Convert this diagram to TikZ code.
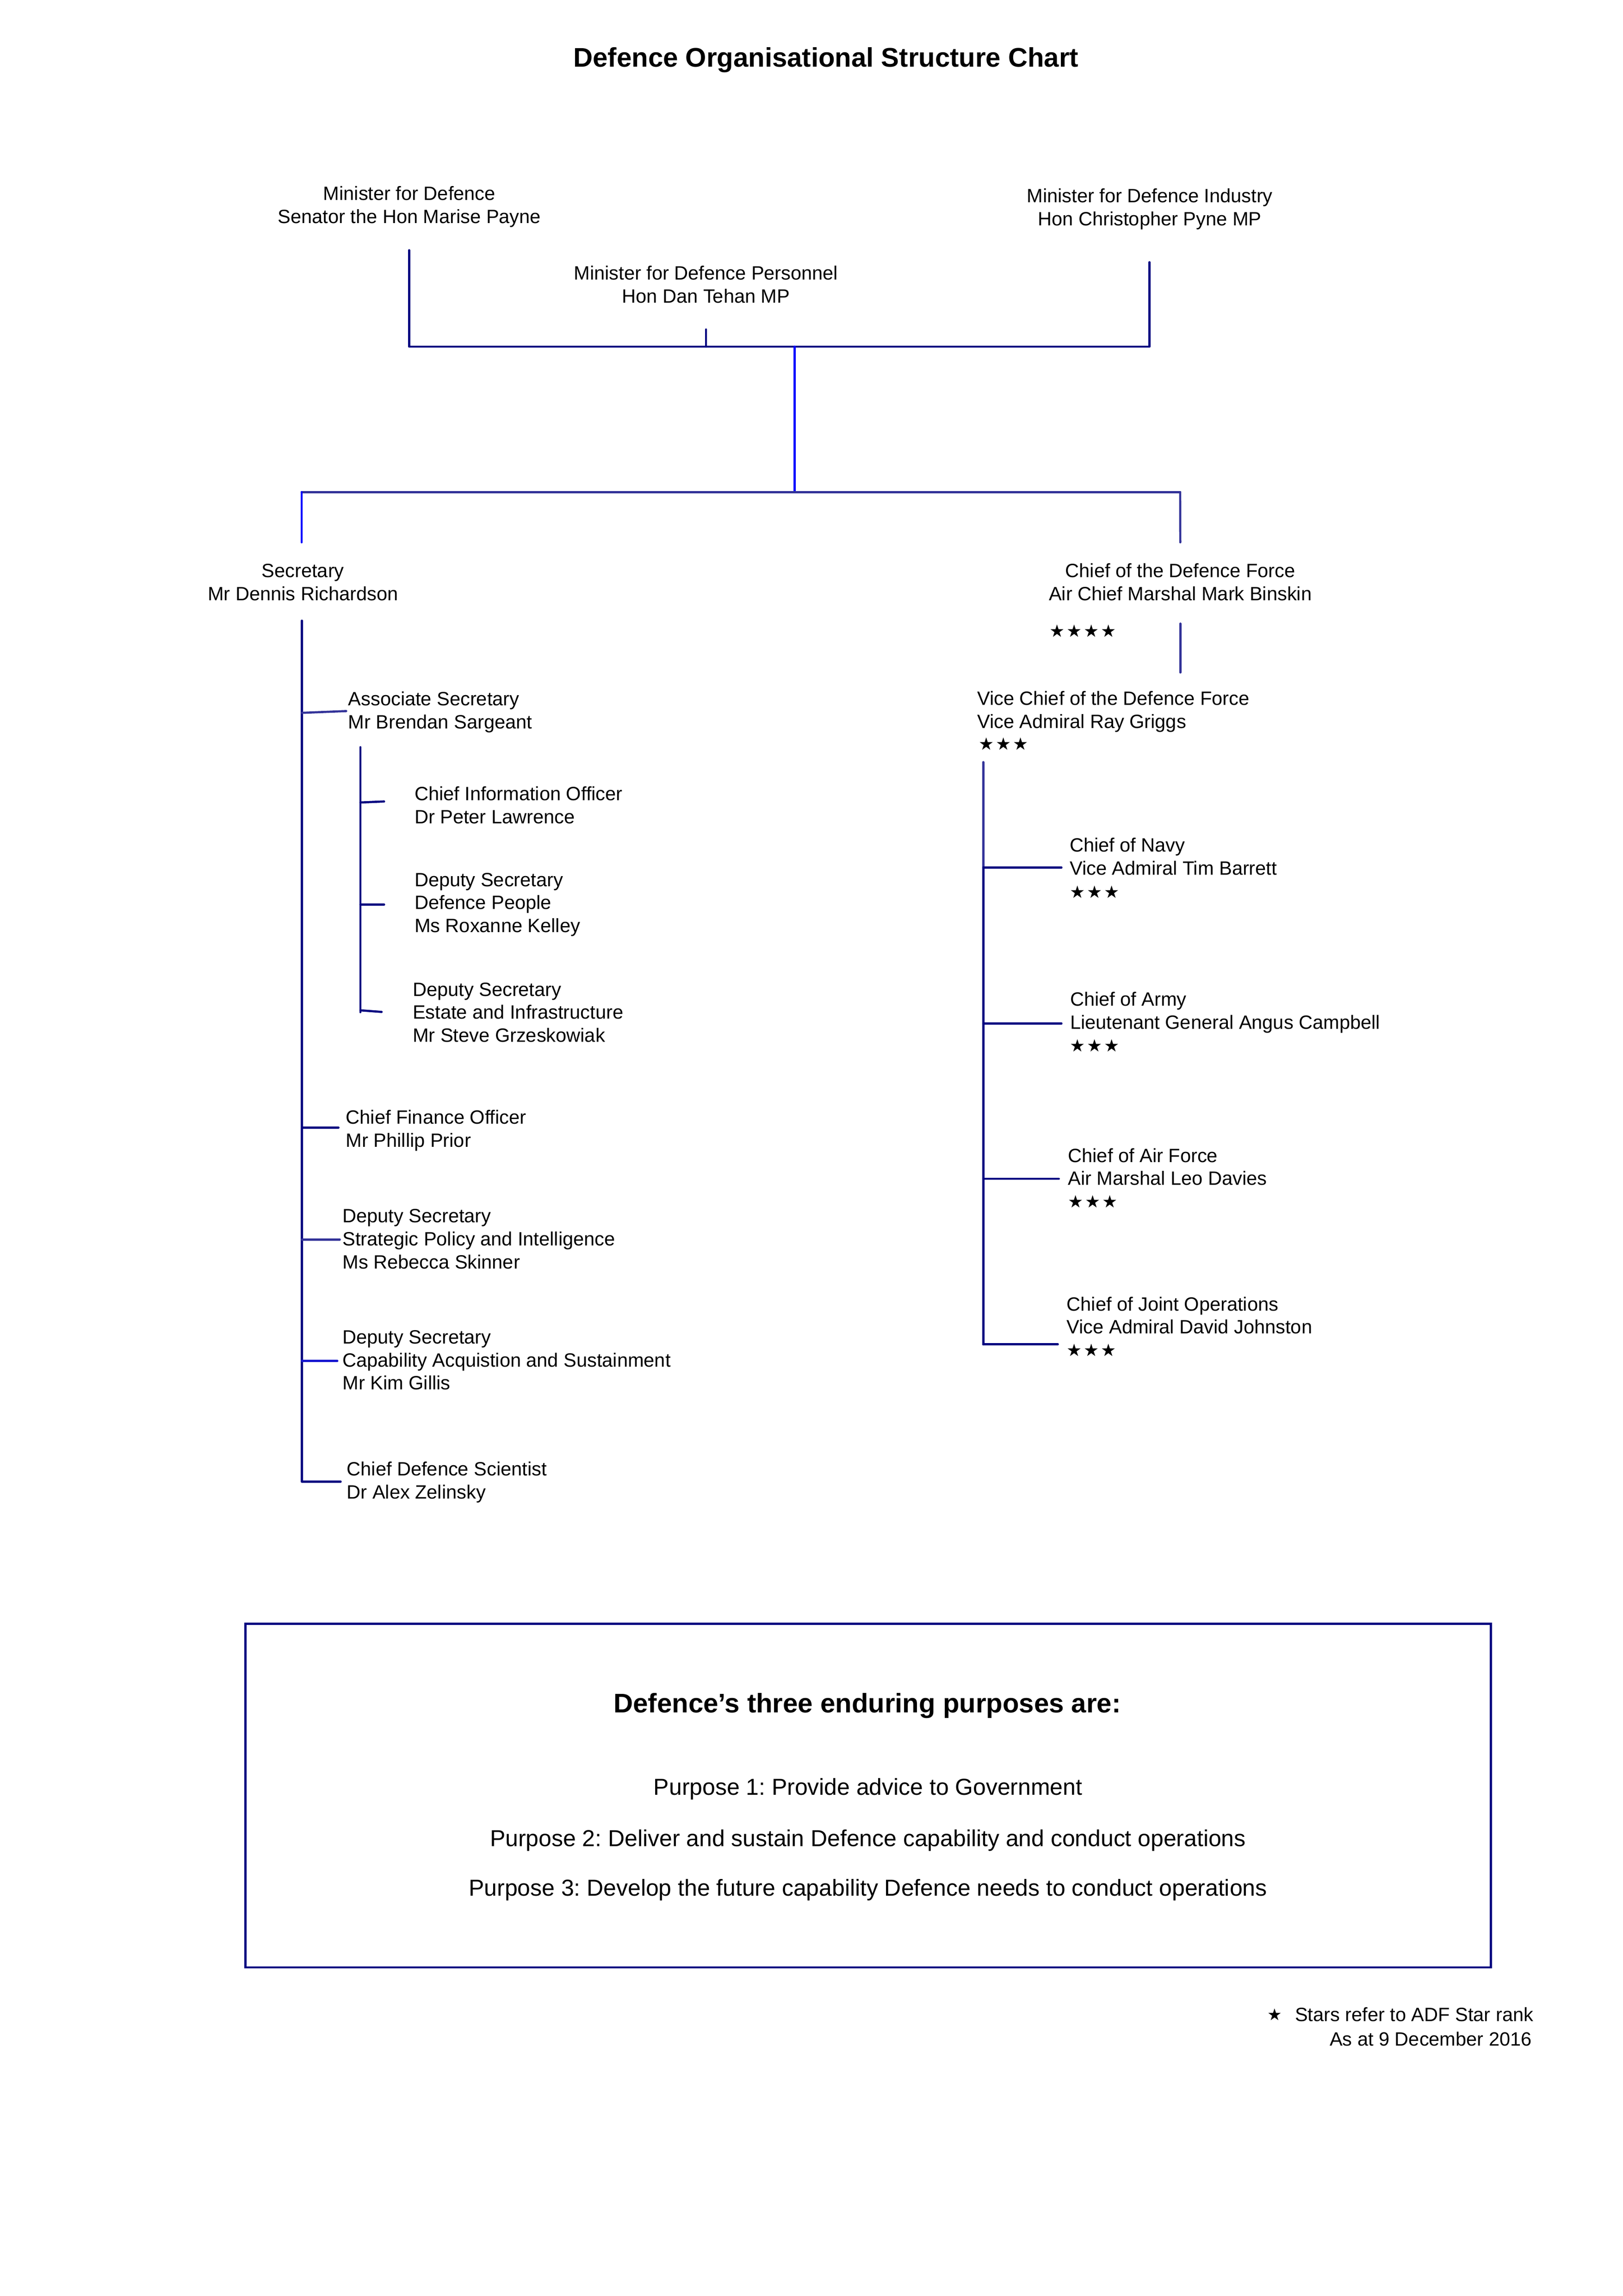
\documentclass[tikz,border=0pt]{standalone}
\usepackage{fontspec}
\setmainfont{Liberation Sans}
\newfontfamily\symfont{DejaVu Sans}
\frenchspacing
\definecolor{navyA}{HTML}{000080}
\definecolor{slateA}{HTML}{333399}
\definecolor{blueA}{HTML}{0000FF}
\definecolor{blueB}{HTML}{1515D0}
\newcommand\bodyf{\fontsize{7.08pt}{8.5pt}\selectfont}
\newcommand\titlef{\fontsize{9.9pt}{12pt}\selectfont\bfseries}
\newcommand\purpf{\fontsize{8.5pt}{10.2pt}\selectfont}
\newcommand\onestar{\makebox[6.3pt][l]{\fontsize{6.3pt}{7pt}\symfont ★}}
\newcommand\llines[1]{\begin{tabular}[t]{@{}l@{}}#1\end{tabular}}
\newcommand\clines[1]{\begin{tabular}[t]{@{}c@{}}#1\end{tabular}}
\begin{document}
\begin{tikzpicture}[x=0.018917cm,y=-0.018917cm,line width=0.8pt,line cap=round,line join=round,
  txt/.style={inner sep=0pt,font=\bodyf,anchor=base west},
  ctxt/.style={inner sep=0pt,font=\bodyf,anchor=base},
  stars/.style={inner sep=0pt,anchor=west}]
\useasboundingbox (0,0) rectangle (1110.1,1569.9);

% title
\node[ctxt,font=\titlef] (title) at (565,45.6) {Defence Organisational Structure Chart};

% ministers
\node[ctxt] (minDef) at (280,136.9) {\clines{Minister for Defence\\Senator the Hon Marise Payne}};
\node[ctxt] (minInd) at (786.4,138.5) {\clines{Minister for Defence Industry\\Hon Christopher Pyne MP}};
\node[ctxt] (minPers) at (482.9,191.3) {\clines{Minister for Defence Personnel\\Hon Dan Tehan MP}};

\coordinate (mdB) at (279.8,171.1); \coordinate (mdJ) at (279.8,237);
\coordinate (miB) at (786.2,179.3); \coordinate (miJ) at (786.2,237);
\coordinate (mpB) at (482.9,225.3); \coordinate (mpJ) at (482.9,237);
\coordinate (topJ) at (543.6,237); \coordinate (midJ) at (543.6,336.5);
\coordinate (secJ) at (206.3,336.5); \coordinate (secT) at (206.3,370.8);
\coordinate (cdfJ) at (807.2,336.5); \coordinate (cdfT) at (807.3,370.8);

\draw[navyA] (mdB) -- (mdJ) -- (miJ) -- (miB);
\draw[navyA] (mpB) -- (mpJ);
\draw[blueA] (topJ) -- (midJ);
\draw[slateA] (secJ) -- (cdfJ);
\draw[blueA] (secJ) -- (secT);
\draw[slateA] (cdfJ) -- (cdfT);

% secretary and CDF
\node[ctxt] (sec) at (207.2,394.8) {\clines{Secretary\\Mr Dennis Richardson}};
\node[ctxt] (cdf) at (807.3,394.7) {\clines{Chief of the Defence Force\\Air Chief Marshal Mark Binskin}};
\node[stars] (cdfStars) at (717.1,431.4) {\onestar\onestar\onestar\onestar};

% secretary branch
\coordinate (secB) at (206.5,424.4); \coordinate (secE) at (206.5,1013);
\draw[navyA] (secB) -- (secE);

\node[txt] (assoc) at (237.5,482.5) {\llines{Associate Secretary\\Mr Brendan Sargeant}};
\coordinate (asJ) at (206.5,487.4); \coordinate (asE) at (236.8,486.2);
\draw[slateA] (asJ) -- (asE);

\coordinate (subB) at (246.5,510.9); \coordinate (subE) at (246.5,692.1);
\draw[navyA] (subB) -- (subE);
\coordinate (s1J) at (246.5,548.7); \coordinate (s1E) at (262.7,548);
\coordinate (s2J) at (246.5,618.5); \coordinate (s2E) at (262.7,618.5);
\coordinate (s3J) at (246.5,690.8); \coordinate (s3E) at (261,691.9);
\draw[navyA] (s1J) -- (s1E);
\draw[navyA] (s2J) -- (s2E);
\draw[navyA] (s3J) -- (s3E);
\node[txt] (cio) at (282.8,547.4) {\llines{Chief Information Officer\\Dr Peter Lawrence}};
\node[txt] (dsPeople) at (282.8,606.0) {\llines{Deputy Secretary\\Defence People\\Ms Roxanne Kelley}};
\node[txt] (dsEstate) at (281.6,681.0) {\llines{Deputy Secretary\\Estate and Infrastructure\\Mr Steve Grzeskowiak}};

\coordinate (cfoJ) at (206.5,771); \coordinate (cfoE) at (231.5,771);
\draw[navyA] (cfoJ) -- (cfoE);
\node[txt] (cfo) at (235.9,768.4) {\llines{Chief Finance Officer\\Mr Phillip Prior}};

\coordinate (spiJ) at (206.5,847.5); \coordinate (spiE) at (232.4,847.5);
\draw[slateA] (spiJ) -- (spiE);
\node[txt] (spi) at (233.6,835.9) {\llines{Deputy Secretary\\Strategic Policy and Intelligence\\Ms Rebecca Skinner}};

\coordinate (casJ) at (206.5,930.5); \coordinate (casE) at (230.7,930.5);
\draw[blueB] (casJ) -- (casE);
\node[txt] (cas) at (233.6,918.7) {\llines{Deputy Secretary\\Capability Acquistion and Sustainment\\Mr Kim Gillis}};

\coordinate (cdsE) at (233,1013);
\draw[navyA] (secE) -- (cdsE);
\node[txt] (cds) at (236.5,1009) {\llines{Chief Defence Scientist\\Dr Alex Zelinsky}};

% CDF branch
\coordinate (cdfB) at (807.3,426.4); \coordinate (cdfE) at (807.3,459.8);
\draw[slateA] (cdfB) -- (cdfE);

\node[txt] (vcdf) at (667.6,482.1) {\llines{Vice Chief of the Defence Force\\Vice Admiral Ray Griggs}};
\node[stars] (vcdfStars) at (668.8,508.7) {\onestar\onestar\onestar};

\coordinate (vB) at (672.5,521.1); \coordinate (navJ) at (672.5,593.2);
\coordinate (armJ) at (672.5,699.8); \coordinate (afJ) at (672.5,806);
\coordinate (joJ) at (672.5,919.2);
\draw[slateA] (vB) -- (navJ);
\draw[navyA] (navJ) -- (joJ);

\coordinate (navE) at (726,593.2);
\coordinate (armE) at (726,699.8);
\coordinate (afE) at (724.2,806);
\coordinate (joE) at (723.5,919.2);
\draw[navyA] (navJ) -- (navE);
\draw[navyA] (armJ) -- (armE);
\draw[navyA] (afJ) -- (afE);
\draw[navyA] (joJ) -- (joE);

\node[txt] (navy) at (730.9,582.5) {\llines{Chief of Navy\\Vice Admiral Tim Barrett}};
\node[stars] (navyStars) at (731.1,609.7) {\onestar\onestar\onestar};
\node[txt] (army) at (731.2,687.7) {\llines{Chief of Army\\Lieutenant General Angus Campbell}};
\node[stars] (armyStars) at (731.1,714.8) {\onestar\onestar\onestar};
\node[txt] (airf) at (729.8,794.6) {\llines{Chief of Air Force\\Air Marshal Leo Davies}};
\node[stars] (airfStars) at (729.8,821.4) {\onestar\onestar\onestar};
\node[txt] (jops) at (728.9,896.2) {\llines{Chief of Joint Operations\\Vice Admiral David Johnston}};
\node[stars] (jopsStars) at (728.8,923) {\onestar\onestar\onestar};

% purposes box
\coordinate (boxNW) at (167.9,1110.3); \coordinate (boxSE) at (1019.7,1345.2);
\draw[navyA,line width=0.8pt,line cap=butt,line join=miter] (boxNW) rectangle (boxSE);
\node[ctxt,font=\titlef] (purpTitle) at (593.2,1171) {Defence’s three enduring purposes are:};
\node[ctxt,font=\purpf] (p1) at (593.7,1227.2) {Purpose 1: Provide advice to Government};
\node[ctxt,font=\purpf] (p2) at (593.7,1262.5) {Purpose 2: Deliver and sustain Defence capability and conduct operations};
\node[ctxt,font=\purpf] (p3) at (593.7,1296.4) {Purpose 3: Develop the future capability Defence needs to conduct operations};

% footnote
\node[stars] (fStar) at (866.2,1377.5) {\fontsize{6pt}{7pt}\symfont ★};
\node[inner sep=0pt,font=\bodyf,anchor=base east] (fn1) at (1049.5,1382.2) {Stars refer to ADF Star rank};
\node[inner sep=0pt,font=\bodyf,anchor=base east] (fn2) at (1048.4,1398.9) {As at 9 December 2016};
\end{tikzpicture}
\end{document}
